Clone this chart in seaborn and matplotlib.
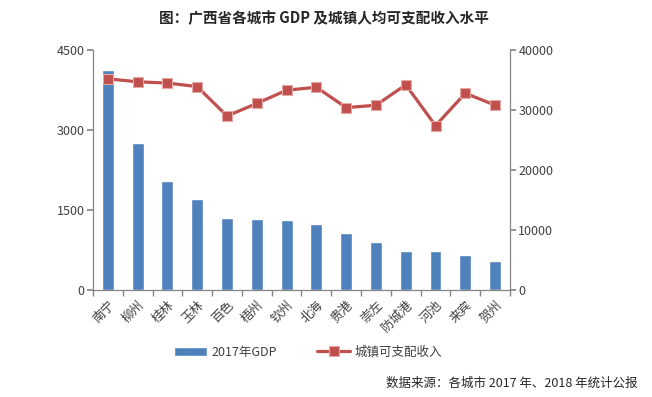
import numpy as np
import pandas as pd
import seaborn as sns
import matplotlib.pyplot as plt

# city data
cities = ["南宁", "柳州", "桂林", "玉林", "百色", "梧州", "钦州", "北海",
          "贵港", "崇左", "防城港", "河池", "来宾", "贺州"]
gdp_2017 = [4119, 2755, 2045, 1700, 1357, 1339, 1310, 1230,
            1070, 905, 735, 735, 660, 545]
income = [35200, 34700, 34500, 33900, 29000, 31100, 33300, 33800,
          30400, 30800, 34200, 27400, 32800, 30800]

left_ticks = [0, 1500, 3000, 4500]
right_ticks = [0, 10000, 20000, 30000, 40000]

bar_color = "#4F81BD"
line_color = "#C0504D"
axis_gray = "#868686"
text_gray = "#404040"

sns.set_theme(style="white")
plt.rcParams['font.family'] = ['Noto Sans CJK SC', 'DejaVu Sans']
plt.rcParams['axes.unicode_minus'] = False

df = pd.DataFrame({"city": cities, "gdp": gdp_2017, "income": income,
                   "pos": np.arange(len(cities))})

fig = plt.figure(figsize=(6.52, 3.97), dpi=100)
ax = fig.add_axes([0.1426, 0.2695, 0.6396, 0.6045])

sns.barplot(data=df, x="city", y="gdp", color=bar_color, width=0.4,
            saturation=1, ax=ax, label="2017年GDP")
if ax.get_legend() is not None:
    ax.get_legend().remove()
ax.set_ylim(0, 4500)
ax.set_yticks(left_ticks)
ax.set_xlim(-0.5, len(cities) - 0.5)
ax.set_xlabel("")
ax.set_ylabel("")

ax2 = ax.twinx()
sns.lineplot(data=df, x="pos", y="income", color=line_color, linewidth=2.3,
             marker="s", markersize=7.5, markerfacecolor=line_color,
             markeredgecolor="#E8A6A4", markeredgewidth=0.8,
             sort=False, ax=ax2, label="城镇可支配收入", legend=False)
if ax2.get_legend() is not None:
    ax2.get_legend().remove()
ax2.set_ylim(0, 40000)
ax2.set_yticks(right_ticks)
ax2.set_xlim(-0.5, len(cities) - 0.5)
ax2.set_ylabel("")

# spines and ticks, excel-like
for a in (ax, ax2):
    a.spines["top"].set_visible(False)
    for side in ("left", "right", "bottom"):
        a.spines[side].set_color(axis_gray)
        a.spines[side].set_linewidth(0.9)
ax.spines["right"].set_visible(False)
ax2.spines["left"].set_visible(False)
ax2.spines["bottom"].set_visible(False)

ax.tick_params(axis="y", direction="out", length=4, color=axis_gray,
               labelsize=9, labelcolor=text_gray, left=True, pad=2)
ax2.tick_params(axis="y", direction="out", length=4, color=axis_gray,
                labelsize=9, labelcolor=text_gray, right=True, pad=2)

# x ticks sit between categories
ax.set_xticks(np.arange(len(cities)))
ax.set_xticks(np.arange(-0.5, len(cities), 1), minor=True)
ax.tick_params(axis="x", which="major", length=0, pad=6)
ax.tick_params(axis="x", which="minor", direction="out", length=4,
               color=axis_gray, bottom=True)
ax.set_xticklabels(cities, rotation=45, ha="right", rotation_mode="anchor",
                   fontsize=9, color=text_gray)

fig.text(0.497, 0.955, "图：广西省各城市 GDP 及城镇人均可支配收入水平",
         ha="center", va="center", fontsize=10.5, fontweight="bold",
         color="#262626")
fig.text(0.978, 0.035, "数据来源：各城市 2017 年、2018 年统计公报",
         ha="right", va="center", fontsize=9, color="#262626")

h1, l1 = ax.get_legend_handles_labels()
h2, l2 = ax2.get_legend_handles_labels()
fig.legend(h1 + h2, l1 + l2, loc="center", bbox_to_anchor=(0.473, 0.113),
           ncol=2, frameon=False, fontsize=9, handlelength=2.6,
           handleheight=0.7, columnspacing=3.2, handletextpad=0.4,
           labelcolor=text_gray)

fig.savefig("out.png", dpi=100, facecolor="white")
